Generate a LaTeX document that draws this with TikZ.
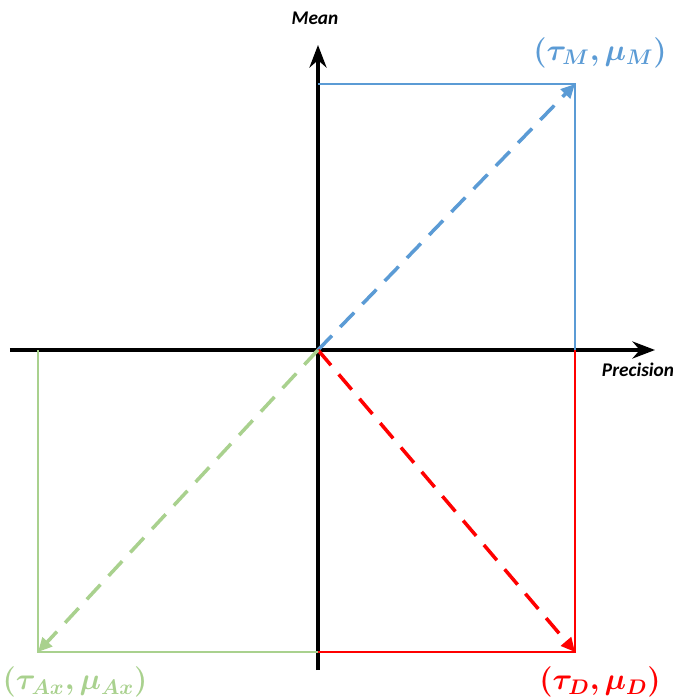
\documentclass[tikz,border=0pt]{standalone}
\usepackage{amsmath}
\usepackage{bm}
\usepackage{fontspec}
\usepackage{tikz}
\usetikzlibrary{arrows,arrows.meta,positioning,calc}
\newfontfamily\axisfont{Carlito}
\definecolor{mblue}{RGB}{91,155,213}
\definecolor{axgreen}{RGB}{169,209,142}
\definecolor{dred}{RGB}{255,0,0}

\begin{document}
\begin{tikzpicture}[
    axis/.style={-{Stealth[length=4.5mm,width=3.4mm]}, line width=2.2pt, black},
    axislabel/.style={font=\axisfont\bfseries\itshape\fontsize{11}{13}\selectfont},
    frame/.style={line width=0.9pt},
    vec/.style={-{Triangle[length=2.8mm,width=2.6mm]}, line width=2pt, dash pattern=on 4mm off 2.4mm},
    point/.style={font=\fontsize{17}{20}\selectfont}
]
    \useasboundingbox (-6.36,-7.0) rectangle (7.08,7.0);

    % Axes
    \coordinate (o) at (0,0);
    \coordinate (xstart) at (-6.16,0);
    \coordinate (xend) at (6.74,0);
    \coordinate (ystart) at (0,-6.4);
    \coordinate (yend) at (0,6.1);
    \draw[axis] (xstart) -- (xend);
    \draw[axis] (ystart) -- (yend);
    \node[axislabel] (prec) at (6.4,-0.4) {Precision};
    \node[axislabel] (mean) at (-0.06,6.64) {Mean};

    % Corner points
    \coordinate (m) at (5.14,5.32);
    \coordinate (d) at (5.14,-6.04);
    \coordinate (ax) at (-5.6,-6.04);

    % Boxes
    \draw[frame, mblue] (o |- m) -- (m) -- (m |- o);
    \draw[frame, dred] (o |- d) -- (d) -- (d |- o);
    \draw[frame, axgreen] (o |- ax) -- (ax) -- (ax |- o);

    % Dashed vectors
    \draw[vec, mblue] (o) -- (m);
    \draw[vec, dred] (o) -- (d);
    \draw[vec, axgreen] (o) -- (ax);

    % Point labels
    \node[point, text=mblue] (mlab) at (5.64,5.95) {$\bm{(\tau_M,\mu_M)}$};
    \node[point, text=dred] (dlab) at (5.64,-6.64) {$\bm{(\tau_D,\mu_D)}$};
    \node[point, text=axgreen] (axlab) at (-4.86,-6.64) {$\bm{(\tau_{Ax},\mu_{Ax})}$};
\end{tikzpicture}
\end{document}
